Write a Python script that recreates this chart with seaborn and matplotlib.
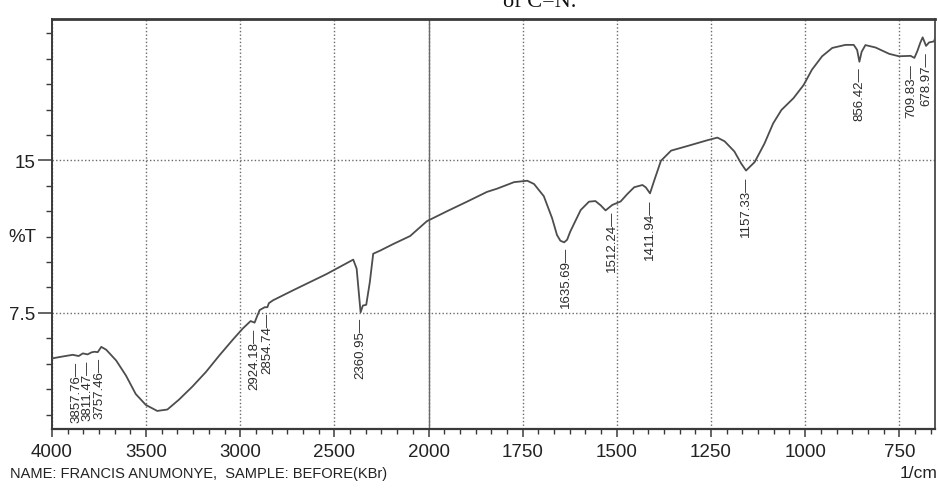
import numpy as np
import pandas as pd
import matplotlib
matplotlib.use("Agg")
import matplotlib.pyplot as plt
import matplotlib.transforms as mtransforms
from matplotlib.ticker import FixedLocator, NullFormatter
import seaborn as sns

# ---------------- data ----------------
wavenumber = [4000, 3960, 3890, 3858, 3836, 3811, 3790, 3774, 3757, 3738, 3712,
              3659, 3607, 3555, 3502, 3441, 3387, 3325, 3254, 3182, 3111, 3040,
              2986, 2945, 2924, 2910, 2897, 2870, 2856, 2848, 2826, 2720, 2542,
              2400, 2382, 2361, 2349, 2331, 2312, 2294, 2258, 2187, 2098, 2009,
              1951, 1898, 1845, 1818, 1773, 1738, 1720, 1694, 1672, 1659, 1650,
              1640, 1632, 1624, 1596, 1574, 1557, 1543, 1530, 1512, 1490, 1472,
              1454, 1432, 1423, 1412, 1401, 1383, 1356, 1312, 1258, 1233, 1214,
              1188, 1170, 1157, 1134, 1108, 1085, 1063, 1031, 1004, 982, 955,
              928, 893, 871, 862, 856, 850, 840, 813, 777, 751, 720, 710, 702,
              694, 688, 679, 671, 658, 655]
transmittance = [5.26, 5.33, 5.44, 5.38, 5.51, 5.46, 5.56, 5.59, 5.57, 5.83, 5.69,
                 5.16, 4.42, 3.51, 2.98, 2.68, 2.75, 3.24, 3.88, 4.60, 5.41, 6.18,
                 6.74, 7.10, 7.02, 7.35, 7.64, 7.78, 7.78, 7.98, 8.12, 8.61, 9.41,
                 10.12, 9.68, 7.53, 7.86, 7.90, 9.01, 10.41, 10.56, 10.89, 11.28, 12.01,
                 12.50, 12.97, 13.45, 13.61, 13.93, 14.00, 13.84, 13.24, 12.16, 11.33, 11.05,
                 10.97, 11.10, 11.49, 12.56, 12.97, 13.00, 12.79, 12.54, 12.81, 12.98, 13.35,
                 13.68, 13.79, 13.67, 13.38, 14.00, 14.98, 15.48, 15.71, 16.00, 16.12, 15.94,
                 15.44, 14.85, 14.50, 14.92, 15.83, 16.82, 17.48, 18.06, 18.71, 19.46, 20.12,
                 20.53, 20.68, 20.68, 20.43, 19.85, 20.34, 20.67, 20.55, 20.24, 20.12, 20.14, 20.04, 20.38,
                 20.80, 21.05, 20.63, 20.80, 20.85, 21.00]
peak_labels = ["3857.76", "3811.47", "3757.46", "2924.18", "2854.74", "2360.95",
               "1635.69", "1512.24", "1411.94", "1157.33", "856.42", "709.83", "678.97"]
x_major = [4000, 3500, 3000, 2500, 2000, 1750, 1500, 1250, 1000, 750]
x_major_labels = ["4000", "3500", "3000", "2500", "2000", "1750", "1500", "1250", "1000", "750"]
y_major = [7.5, 15]
y_major_labels = ["7.5", "15"]

# ---------------- style ----------------
sns.set_theme(style="white")
plt.rcParams['font.family'] = ['Liberation Sans', 'DejaVu Sans']
ink = '#3a3a3a'

fig = plt.figure(figsize=(9.38, 4.89), dpi=100)
ax = fig.add_axes([0.0554, 0.121, 0.9415, 0.838])

df = pd.DataFrame({'wavenumber': wavenumber, 'T': transmittance})
sns.lineplot(data=df, x='wavenumber', y='T', sort=False, estimator=None,
             color='#4d4d4d', linewidth=1.3, ax=ax, zorder=3)

# two-range IR abscissa: 4000-2000 compressed 2x relative to 2000-650
def fwd(w):
    w = np.asarray(w, dtype=float)
    return np.where(w >= 2000, w, 2 * w - 2000)

def inv(u):
    u = np.asarray(u, dtype=float)
    return np.where(u >= 2000, u, (u + 2000) / 2)

ax.set_xscale('function', functions=(fwd, inv))
ax.set_xlim(4000, 655)
ax.set_ylim(1.8, 21.95)
ax.set_xlabel('')
ax.set_ylabel('')

ax.xaxis.set_major_locator(FixedLocator(x_major))
ax.set_xticklabels(x_major_labels)
minor_x = list(np.linspace(4000, 2000, 25)) + list(np.linspace(2000, 500, 37))
ax.xaxis.set_minor_locator(FixedLocator(minor_x))
ax.xaxis.set_minor_formatter(NullFormatter())

ax.yaxis.set_major_locator(FixedLocator(y_major))
ax.set_yticklabels(y_major_labels)
ax.yaxis.set_minor_locator(FixedLocator(list(np.arange(2.5, 21.5, 1.25))))
ax.yaxis.set_minor_formatter(NullFormatter())

ax.tick_params(axis='x', which='major', bottom=True, direction='out', length=6,
               width=1.1, color=ink, pad=4, labelsize=13.5, labelcolor='#222222')
ax.tick_params(axis='x', which='minor', bottom=True, direction='out', length=3.5,
               width=1.0, color=ink)
ax.tick_params(axis='y', which='major', left=True, direction='out', length=10,
               width=1.1, color=ink, pad=2, labelsize=13.5, labelcolor='#222222')
ax.tick_params(axis='y', which='minor', left=True, direction='out', length=4,
               width=1.0, color=ink)

ax.grid(True, which='major', axis='both', linestyle=(0, (1, 1.6)), color='#6a6a6a',
        linewidth=1.0)
ax.axvline(2000, color='#6a6a6a', linewidth=1.0, zorder=2)

for side, lw in (('top', 2.0), ('left', 1.4), ('bottom', 1.6), ('right', 1.2)):
    ax.spines[side].set_color(ink)
    ax.spines[side].set_linewidth(lw)

# peak labels hanging below each band (small sideways nudges for crowded labels)
nudge_pt = {"3857.76": -2.0, "3757.46": 1.5, "709.83": -2.5, "678.97": 0.5}
wn_asc = np.array(wavenumber[::-1], dtype=float)
t_asc = np.array(transmittance[::-1], dtype=float)
for lab in peak_labels:
    p = float(lab)
    yv = np.interp(p, wn_asc, t_asc) - 0.25
    ax.annotate(lab + '\u2014', xy=(p, yv), xytext=(nudge_pt.get(lab, 0.0), 0),
                textcoords='offset points', rotation=90, ha='center', va='top',
                fontsize=9.5, color='#2a2a2a', zorder=4)

trans = mtransforms.blended_transform_factory(fig.transFigure, ax.transData)
ax.text(8 / 938, 11.25, '%T', transform=trans, ha='left', va='center',
        fontsize=13.5, color='#222222')

fig.text(10 / 938, 1 - 474 / 489, 'NAME: FRANCIS ANUMONYE,  SAMPLE: BEFORE(KBr)',
         ha='left', va='center', fontsize=10.5, color='#222222')
fig.text(937 / 938, 1 - 474 / 489, '1/cm', ha='right', va='center',
         fontsize=12.5, color='#222222')
fig.text(540 / 938, 1 - 7 / 489, 'of C=N.', ha='center', va='baseline',
         fontsize=16, family=['Liberation Serif', 'DejaVu Serif'], color='#111111')

fig.savefig('out.png', dpi=100)
